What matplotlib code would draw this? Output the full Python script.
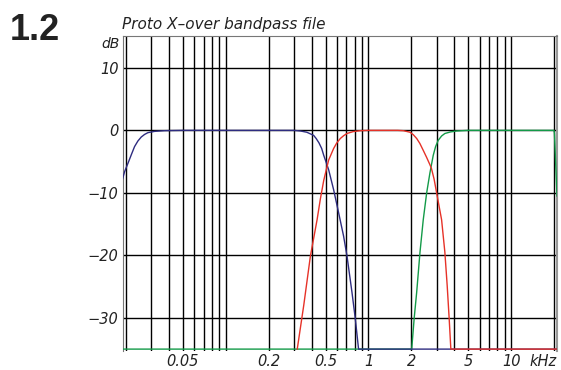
import matplotlib
matplotlib.use("Agg")
import matplotlib.pyplot as plt
from matplotlib.ticker import LogLocator, NullFormatter

## data (frequency in kHz, level in dB)
blue_f = [0.0190, 0.0196, 0.02066, 0.02183, 0.0230, 0.02428, 0.02564, 0.02704,
          0.02852, 0.03177, 0.03733, 0.05, 0.10, 0.25, 0.30, 0.334, 0.37, 0.413,
          0.43, 0.45, 0.47, 0.486, 0.505, 0.526, 0.570, 0.618, 0.669, 0.707,
          0.766, 0.808, 0.852, 20.9]
blue_db = [-7.7, -6.6, -5.3, -3.9, -2.6, -1.7, -1.06, -0.65,
           -0.37, -0.16, -0.05, 0.0, 0.0, 0.0, 0.0, -0.1, -0.3, -0.8,
           -1.3, -2.0, -2.9, -4.0, -5.1, -6.3, -9.5, -13.2, -16.9, -20.1,
           -25.9, -30.1, -35.0, -35.0]

red_f = [0.317, 0.352, 0.392, 0.4365, 0.46, 0.486, 0.526, 0.570, 0.60, 0.635,
         0.67, 0.707, 0.78, 0.875, 1.0, 1.6, 1.754, 1.954, 2.06, 2.175,
         2.29, 2.418, 2.55, 2.693, 2.76, 2.88, 3.0, 3.25, 3.426, 3.556,
         3.672, 3.773, 20.9]
red_db = [-35.0, -28.0, -20.1, -14.3, -11.0, -8.0, -4.75, -2.9, -2.0, -1.3,
          -0.85, -0.5, -0.2, -0.05, 0.0, 0.0, -0.05, -0.3, -0.7, -1.3,
          -2.1, -3.2, -4.3, -5.5, -6.1, -7.8, -10.0, -14.3, -19.5, -24.8,
          -30.1, -35.0, -35.0]

green_f = [0.019, 2.007, 2.09, 2.175, 2.294, 2.418, 2.555, 2.693, 2.84, 2.95,
           3.077, 3.25, 3.426, 3.75, 4.136, 5.0, 19.9, 20.05, 20.3, 20.9]
green_db = [-35.0, -35.0, -30.0, -25.9, -19.5, -14.3, -10.0, -6.8, -4.0, -2.6,
            -1.6, -0.9, -0.5, -0.25, -0.1, 0.0, 0.0, -0.5, -3.5, -10.5]

xtick_vals = [0.05, 0.2, 0.5, 1, 2, 5, 10]
xtick_labels = ["0.05", "0.2", "0.5", "1", "2", "5", "10"]
ytick_vals = [-30, -20, -10, 0, 10]
ytick_labels = ["\u221230", "\u221220", "\u221210", "0", "10"]

## figure
fig = plt.figure(figsize=(5.61, 3.70), dpi=100)
ax = fig.add_axes([0.2187, 0.0514, 0.7742, 0.8513])

ax.plot(green_f, green_db, color="#139a48", lw=1.0, zorder=3)
ax.plot(blue_f, blue_db, color="#2e2c80", lw=1.0, zorder=4)
ax.plot(red_f, red_db, color="#e63228", lw=1.0, zorder=5)

ax.set_xscale("log")
ax.set_xlim(0.0190, 20.9)
ax.set_ylim(-35.3, 15.1)

ax.xaxis.set_major_locator(plt.FixedLocator(xtick_vals))
ax.set_xticklabels(xtick_labels)
ax.xaxis.set_minor_locator(LogLocator(base=10, subs=range(1, 10), numticks=20))
ax.xaxis.set_minor_formatter(NullFormatter())
ax.set_yticks(ytick_vals)
ax.set_yticklabels(ytick_labels)

ax.tick_params(which="both", length=0)
ax.tick_params(axis="x", pad=2.5)
ax.tick_params(axis="y", pad=3)
for lab in ax.get_xticklabels() + ax.get_yticklabels():
    lab.set_fontstyle("italic")
    lab.set_fontsize(10.5)
    lab.set_color("#222222")

ax.grid(which="both", axis="x", color="black", lw=1.0)
ax.grid(which="major", axis="y", color="black", lw=1.0)
ax.set_axisbelow(True)

ax.spines["bottom"].set_visible(False)
ax.spines["left"].set_color("#777777")
ax.spines["top"].set_color("#777777")
ax.spines["right"].set_color("#999999")
ax.spines["right"].set_linewidth(1.5)

# texts around the plot
fig.text(10 / 561, 1 - 40 / 370, "1.2", fontsize=26, fontweight="bold",
         family="Liberation Sans", color="#222222", va="baseline")
fig.text(122 / 561, 1 - 29.5 / 370, "Proto X\u2013over bandpass file",
         fontsize=11, fontstyle="italic", color="#222222", va="baseline")
fig.text(120 / 561, 1 - 48 / 370, "dB", fontsize=10, fontstyle="italic",
         color="#222222", ha="right", va="baseline")
fig.text(557 / 561, 1 - 366 / 370, "kHz", fontsize=10.5, fontstyle="italic",
         color="#222222", ha="right", va="baseline")

fig.savefig("out.png", dpi=100)
